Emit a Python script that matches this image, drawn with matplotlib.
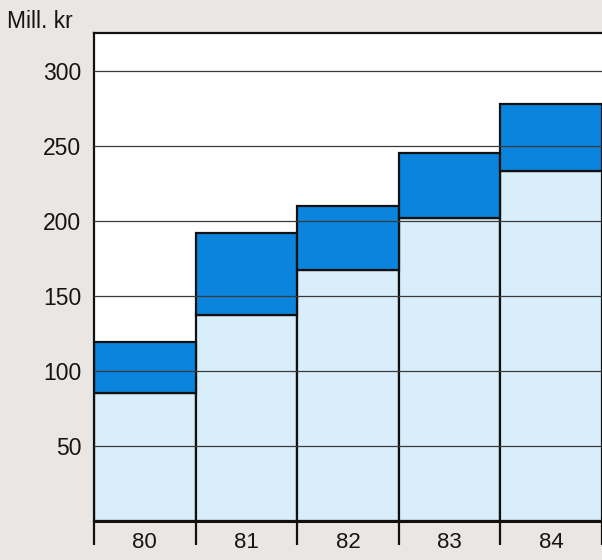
import matplotlib
matplotlib.use("Agg")
import matplotlib.pyplot as plt
import numpy as np

years = ["80", "81", "82", "83", "84"]
base_vals = [85, 137, 167, 202, 233]
top_vals = [34, 55, 43, 43, 45]
y_ticks = [50, 100, 150, 200, 250, 300]

plt.rcParams['font.family'] = ['Liberation Sans', 'DejaVu Sans']

bg = "#e9e6e4"
txt = "#151515"
fig = plt.figure(figsize=(6.02, 5.6), dpi=100, facecolor=bg)
ax = fig.add_axes([94/602, 39/560, 1 - 94/602, (521 - 33)/560])
ax.set_facecolor("white")

x = np.arange(len(years))
ax.bar(x, base_vals, width=1.0, color="#d9eefb", edgecolor="#111111", linewidth=1.6, zorder=2)
ax.bar(x, top_vals, width=1.0, bottom=base_vals, color="#0a84dc", edgecolor="#111111", linewidth=1.6, zorder=2)

for t in y_ticks:
    ax.axhline(t, color="#3a3a3a", linewidth=0.9, zorder=3)

ax.set_xlim(-0.5, 4.5)
ax.set_ylim(0, 325)
ax.set_yticks(y_ticks)
ax.set_yticklabels([str(v) for v in y_ticks], fontsize=16.5, color=txt)
ax.tick_params(axis='y', length=0, pad=9)

ax.set_xticks(x)
ax.set_xticklabels(years, fontsize=16, color=txt)
ax.tick_params(axis='x', which='major', length=0, pad=8)
ax.set_xticks(np.arange(-0.5, 5.0, 1.0), minor=True)
ax.tick_params(axis='x', which='minor', length=17, width=1.6, color="#111111", direction='out')

for s in ['left', 'top']:
    ax.spines[s].set_linewidth(1.6)
    ax.spines[s].set_color("#111111")
ax.spines['bottom'].set_linewidth(2.2)
ax.spines['bottom'].set_color("#111111")
ax.spines['right'].set_visible(False)

fig.text(7/602, 1 - 22/560, "Mill. kr", fontsize=16.5, va='center', ha='left', color=txt)

fig.savefig("out.png", dpi=100, facecolor=bg)
